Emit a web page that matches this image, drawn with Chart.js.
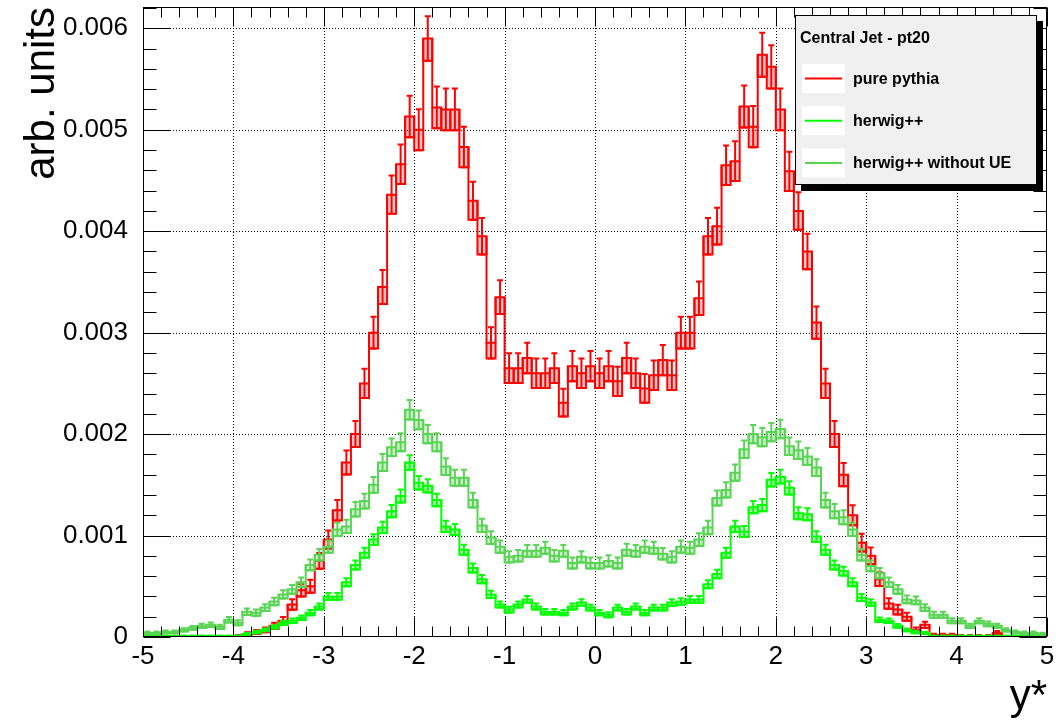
<!DOCTYPE html>
<html>
<head>
<meta charset="utf-8">
<title>Central Jet - pt20</title>
<script src="https://cdn.jsdelivr.net/npm/chart.js@4.4.1/dist/chart.umd.min.js"></script>
<style>
html,body{margin:0;padding:0;background:#ffffff;}
#wrap{position:relative;width:1063px;height:727px;}
</style>
</head>
<body>
<div id="wrap"><canvas id="chart"></canvas></div>
<script>
// ---- histogram binning (100 bins from -5 to 5) ----
const X_MIN = -5, X_MAX = 5, N_BINS = 100;

// ---- tick labels / texts ----
const xTickLabels = ['-5','-4','-3','-2','-1','0','1','2','3','4','5'];
const yTickLabels = ['0','0.001','0.002','0.003','0.004','0.005','0.006'];
const xTitle = 'y*';
const yTitle = 'arb. units';
const legendTitle = 'Central Jet - pt20';
const seriesNames = ['pure pythia', 'herwig++', 'herwig++ without UE'];

// ---- series values (bin contents) ----
const pythia = [
 0,0,0,0,0,0,0,0,0,0,
 0.00001,0.00003,0.00005,0.00007,0.00011,0.00016,0.00032,0.00046,0.00050,0.00075,
 0.00096,0.00125,0.00172,0.00200,0.00250,0.00300,0.00345,0.00436,0.00466,0.00513,
 0.00500,0.00590,0.00522,0.00520,0.00520,0.00483,0.00430,0.00395,0.00290,0.00335,
 0.00265,0.00265,0.00275,0.00260,0.00260,0.00265,0.00231,0.00267,0.00260,0.00267,
 0.00260,0.00267,0.00252,0.00275,0.00260,0.00245,0.00258,0.00273,0.00258,0.00300,
 0.00300,0.00334,0.00395,0.00405,0.00465,0.00469,0.00523,0.00503,0.00574,0.00562,
 0.00520,0.00459,0.00420,0.00380,0.00310,0.00250,0.00200,0.00160,0.00120,0.00093,
 0.00080,0.00057,0.00033,0.00027,0.00020,0.00007,0.00012,0.00002,0.00002,0.00002,
 0.00001,0.00001,0.00001,0.00001,0.00004,0,0,0,0,0
];
const pythiaErr = [
 0,0,0,0,0,0,0,0,0,0,
 0.000009,0.000016,0.000020,0.000024,0.000030,0.000036,0.000051,0.000061,0.000064,0.000078,
 0.000089,0.000101,0.000119,0.000128,0.000143,0.000157,0.000168,0.000189,0.000195,0.000205,
 0.000202,0.000220,0.000206,0.000206,0.000206,0.000199,0.000188,0.000180,0.000154,0.000166,
 0.000147,0.000147,0.000150,0.000146,0.000146,0.000147,0.000137,0.000148,0.000146,0.000148,
 0.000146,0.000148,0.000144,0.000150,0.000146,0.000142,0.000145,0.000149,0.000145,0.000157,
 0.000157,0.000165,0.000180,0.000182,0.000195,0.000196,0.000207,0.000203,0.000217,0.000214,
 0.000206,0.000194,0.000185,0.000176,0.000159,0.000143,0.000128,0.000114,0.000099,0.000087,
 0.000081,0.000068,0.000052,0.000047,0.000040,0.000024,0.000031,0.000013,0.000013,0.000013,
 0.000009,0.000009,0.000009,0.000009,0.000018,0,0,0,0,0
];
const herwig = [
 0.00001,0.00001,0.00001,0.00001,0.00001,0.00001,0.00001,0.00001,0.00001,0.00001,
 0.00001,0.00003,0.00005,0.00007,0.00010,0.00014,0.00016,0.00019,0.00024,0.00030,
 0.00040,0.00040,0.00054,0.00071,0.00083,0.00096,0.00108,0.00124,0.00139,0.00172,
 0.00152,0.00149,0.00135,0.00109,0.00106,0.00086,0.00068,0.00057,0.00042,0.00032,
 0.00027,0.00032,0.00037,0.00030,0.00025,0.00025,0.00024,0.00030,0.00034,0.00029,
 0.00024,0.00022,0.00029,0.00025,0.00030,0.00024,0.00029,0.00029,0.00034,0.00035,
 0.00037,0.00037,0.00052,0.00062,0.00083,0.00109,0.00104,0.00128,0.00130,0.00155,
 0.00158,0.00147,0.00122,0.00121,0.00099,0.00086,0.00071,0.00065,0.00054,0.00039,
 0.00034,0.00017,0.00016,0.00011,0.00007,0.00005,0.00004,0.00001,0.00001,0.00001,
 0.00001,0.00001,0.00001,0.00001,0.00001,0.00001,0.00001,0.00001,0.00001,0.00001
];
const herwigErr = [
 0.000005,0.000005,0.000005,0.000005,0.000005,0.000005,0.000005,0.000005,0.000005,0.000005,
 0.000005,0.000009,0.000012,0.000014,0.000017,0.000020,0.000022,0.000023,0.000026,0.000029,
 0.000034,0.000034,0.000040,0.000045,0.000049,0.000053,0.000056,0.000060,0.000063,0.000071,
 0.000066,0.000066,0.000062,0.000056,0.000055,0.000050,0.000044,0.000041,0.000035,0.000030,
 0.000028,0.000030,0.000033,0.000029,0.000027,0.000027,0.000026,0.000029,0.000031,0.000029,
 0.000026,0.000025,0.000029,0.000027,0.000029,0.000026,0.000029,0.000029,0.000031,0.000032,
 0.000033,0.000033,0.000039,0.000042,0.000049,0.000056,0.000055,0.000061,0.000061,0.000067,
 0.000068,0.000065,0.000059,0.000059,0.000053,0.000050,0.000045,0.000043,0.000040,0.000034,
 0.000031,0.000022,0.000022,0.000018,0.000014,0.000012,0.000011,0.000005,0.000005,0.000005,
 0.000005,0.000005,0.000005,0.000005,0.000005,0.000005,0.000005,0.000005,0.000005,0.000005
];
const herwigNoUE = [
 0.00004,0.00004,0.00005,0.00005,0.00007,0.00009,0.00011,0.00012,0.00010,0.00017,
 0.00014,0.00025,0.00024,0.00029,0.00035,0.00042,0.00047,0.00054,0.00071,0.00081,
 0.00089,0.00106,0.00109,0.00126,0.00134,0.00150,0.00172,0.00187,0.00192,0.00224,
 0.00214,0.00200,0.00192,0.00168,0.00157,0.00157,0.00135,0.00110,0.00098,0.00089,
 0.00079,0.00080,0.00085,0.00085,0.00088,0.00080,0.00085,0.00073,0.00079,0.00073,
 0.00073,0.00075,0.00073,0.00086,0.00085,0.00089,0.00088,0.00082,0.00079,0.00089,
 0.00088,0.00096,0.00108,0.00137,0.00145,0.00162,0.00185,0.00200,0.00197,0.00202,
 0.00205,0.00188,0.00184,0.00178,0.00167,0.00135,0.00124,0.00118,0.00106,0.00081,
 0.00070,0.00063,0.00054,0.00047,0.00037,0.00036,0.00029,0.00022,0.00022,0.00016,
 0.00016,0.00011,0.00016,0.00013,0.00011,0.00007,0.00005,0.00004,0.00004,0.00003
];
const herwigNoUEErr = [
 0.000013,0.000013,0.000014,0.000014,0.000017,0.000019,0.000021,0.000022,0.000020,0.000026,
 0.000024,0.000032,0.000031,0.000034,0.000037,0.000041,0.000043,0.000046,0.000053,0.000057,
 0.000060,0.000065,0.000066,0.000071,0.000073,0.000077,0.000083,0.000086,0.000088,0.000095,
 0.000093,0.000089,0.000088,0.000082,0.000079,0.000079,0.000073,0.000066,0.000063,0.000060,
 0.000056,0.000057,0.000058,0.000058,0.000059,0.000057,0.000058,0.000054,0.000056,0.000054,
 0.000054,0.000055,0.000054,0.000059,0.000058,0.000060,0.000059,0.000057,0.000056,0.000060,
 0.000059,0.000062,0.000066,0.000074,0.000076,0.000080,0.000086,0.000089,0.000089,0.000090,
 0.000091,0.000087,0.000086,0.000084,0.000082,0.000073,0.000070,0.000069,0.000065,0.000057,
 0.000053,0.000050,0.000046,0.000043,0.000038,0.000038,0.000034,0.000030,0.000030,0.000025,
 0.000025,0.000021,0.000025,0.000023,0.000021,0.000017,0.000014,0.000013,0.000013,0.000011
];

// ---- build step-histogram point lists (bin low edges + final upper edge) ----
const BIN_W = (X_MAX - X_MIN) / N_BINS;
function histData(vals) {
  const pts = vals.map((v, i) => ({ x: X_MIN + i * BIN_W, y: v }));
  pts.push({ x: X_MAX, y: vals[vals.length - 1] });
  return pts;
}

const FONT = '"Liberation Sans", Arial, Helvetica, sans-serif';

// grid (dotted, ROOT style) drawn under the histograms
const gridPlugin = {
  id: 'rootGrid',
  beforeDatasetsDraw(chart) {
    const { ctx, chartArea: a, scales: { x, y } } = chart;
    ctx.save();
    ctx.strokeStyle = '#000';
    ctx.lineWidth = 1;
    ctx.setLineDash([1, 2]);
    for (let k = 1; k < xTickLabels.length - 1; k++) {
      const px = Math.round(x.getPixelForValue(Number(xTickLabels[k]))) + 0.5;
      ctx.beginPath(); ctx.moveTo(px, a.top); ctx.lineTo(px, a.bottom); ctx.stroke();
    }
    for (let k = 1; k < yTickLabels.length; k++) {
      const py = Math.round(y.getPixelForValue(Number(yTickLabels[k]))) + 0.5;
      ctx.beginPath(); ctx.moveTo(a.left, py); ctx.lineTo(a.right, py); ctx.stroke();
    }
    ctx.restore();
  }
};

// error bars + lower error boxes for each histogram
const errorPlugin = {
  id: 'rootErrors',
  afterDatasetDraw(chart, args) {
    const ds = chart.data.datasets[args.index];
    if (!ds.errors) return;
    const { ctx, chartArea: a, scales: { x, y } } = chart;
    ctx.save();
    ctx.beginPath(); ctx.rect(a.left, a.top, a.right - a.left, a.bottom - a.top); ctx.clip();
    ctx.lineWidth = 2;
    ctx.strokeStyle = ds.borderColor;
    ctx.fillStyle = ds.boxFill;
    const vals = ds.values;
    for (let i = 0; i < vals.length; i++) {
      const v = vals[i], e = ds.errors[i];
      if (v <= 0) continue;
      const xl = x.getPixelForValue(X_MIN + i * BIN_W);
      const xr = x.getPixelForValue(X_MIN + (i + 1) * BIN_W);
      const xc = x.getPixelForValue(X_MIN + (i + 0.5) * BIN_W);
      const yv = y.getPixelForValue(v);
      const yt = y.getPixelForValue(v + e);
      const yb = y.getPixelForValue(Math.max(v - e, 0));
      // lower box
      ctx.fillRect(xl, yv, xr - xl, yb - yv);
      ctx.beginPath();
      ctx.moveTo(xl, yv); ctx.lineTo(xl, yb); ctx.lineTo(xr, yb); ctx.lineTo(xr, yv);
      ctx.stroke();
      // error bar with caps
      ctx.beginPath();
      ctx.moveTo(xc, yt); ctx.lineTo(xc, yb);
      ctx.moveTo(xc - 3, yt); ctx.lineTo(xc + 3, yt);
      ctx.moveTo(xc - 3, yb); ctx.lineTo(xc + 3, yb);
      ctx.stroke();
    }
    ctx.restore();
  }
};

// frame + ROOT-style inside ticks
const framePlugin = {
  id: 'rootFrame',
  afterDatasetsDraw(chart) {
    const { ctx, chartArea: a, scales: { x, y } } = chart;
    ctx.save();
    ctx.strokeStyle = '#000';
    ctx.lineWidth = 1;
    const L = Math.round(a.left) + 0.5, R = Math.round(a.right) - 0.5;
    const T = Math.round(a.top) + 0.5, B = Math.round(a.bottom) - 0.5;
    ctx.strokeRect(L, T, R - L, B - T);
    const xMaj = xTickLabels.map(Number);
    const yMaj = yTickLabels.map(Number);
    ctx.beginPath();
    // x ticks (bottom upward, top downward)
    for (let k = 0; k < xMaj.length; k++) {
      const px = Math.round(x.getPixelForValue(xMaj[k])) + 0.5;
      ctx.moveTo(px, B); ctx.lineTo(px, B - 19);
      ctx.moveTo(px, T); ctx.lineTo(px, T + 19);
      if (k < xMaj.length - 1) {
        const st = (xMaj[k + 1] - xMaj[k]) / 5;
        for (let j = 1; j < 5; j++) {
          const pm = Math.round(x.getPixelForValue(xMaj[k] + j * st)) + 0.5;
          ctx.moveTo(pm, B); ctx.lineTo(pm, B - 10);
          ctx.moveTo(pm, T); ctx.lineTo(pm, T + 10);
        }
      }
    }
    // y ticks (left rightward, right leftward)
    const yst = (yMaj[1] - yMaj[0]) / 5;
    for (let k = 0; k < yMaj.length; k++) {
      const py = Math.round(y.getPixelForValue(yMaj[k])) + 0.5;
      ctx.moveTo(L, py); ctx.lineTo(L + 27, py);
      ctx.moveTo(R, py); ctx.lineTo(R - 27, py);
      for (let j = 1; j < 5; j++) {
        const v = yMaj[k] + j * yst;
        if (v > y.max) break;
        const pm = Math.round(y.getPixelForValue(v)) + 0.5;
        ctx.moveTo(L, pm); ctx.lineTo(L + 13, pm);
        ctx.moveTo(R, pm); ctx.lineTo(R - 13, pm);
      }
    }
    ctx.stroke();
    ctx.restore();
  }
};

// ROOT-style legend box with title and shadow
const legendPlugin = {
  id: 'rootLegend',
  afterDraw(chart) {
    const { ctx } = chart;
    const bx = 795, by = 15, bw = 242, bh = 170;
    ctx.save();
    ctx.fillStyle = '#000';
    ctx.fillRect(bx + 6, by + 6, bw, bh);
    ctx.fillStyle = '#f0f0f0';
    ctx.fillRect(bx, by, bw, bh);
    ctx.strokeStyle = '#000';
    ctx.lineWidth = 1;
    ctx.strokeRect(bx + 0.5, by + 0.5, bw - 1, bh - 1);
    ctx.fillStyle = '#000';
    ctx.font = 'bold 16px ' + FONT;
    ctx.textBaseline = 'alphabetic';
    ctx.textAlign = 'left';
    ctx.fillText(legendTitle, bx + 5, 43);
    chart.data.datasets.forEach((ds, k) => {
      const yc = 78.5 + 42.2 * k;
      ctx.fillStyle = '#ffffff';
      ctx.fillRect(802, yc - 14.5, 43, 29);
      ctx.strokeStyle = ds.borderColor;
      ctx.lineWidth = 2;
      ctx.beginPath(); ctx.moveTo(805, yc); ctx.lineTo(842, yc); ctx.stroke();
      ctx.fillStyle = '#000';
      ctx.fillText(ds.label, 853, yc + 5);
    });
    ctx.restore();
  }
};

const datasets = [
  { label: seriesNames[0], values: pythia, errors: pythiaErr, data: histData(pythia),
    borderColor: '#ff0000', boxFill: 'rgba(255,0,0,0.22)', order: 3 },
  { label: seriesNames[1], values: herwig, errors: herwigErr, data: histData(herwig),
    borderColor: '#00ff00', boxFill: 'rgba(0,255,0,0.3)', order: 2 },
  { label: seriesNames[2], values: herwigNoUE, errors: herwigNoUEErr, data: histData(herwigNoUE),
    borderColor: '#59d454', boxFill: 'rgba(89,212,84,0.3)', order: 1 }
].map(d => Object.assign(d, { stepped: true, borderWidth: 2, pointRadius: 0, fill: false, tension: 0 }));

new Chart(document.getElementById('chart'), {
  type: 'line',
  data: { datasets },
  options: {
    responsive: true,
    maintainAspectRatio: false,
    animation: false,
    events: [],
    layout: { padding: { top: 7, right: 16, left: 0, bottom: 0 } },
    plugins: { legend: { display: false }, tooltip: { enabled: false } },
    scales: {
      x: {
        type: 'linear', min: X_MIN, max: X_MAX,
        grid: { display: false, drawTicks: false },
        border: { display: false },
        ticks: {
          stepSize: 1, autoSkip: false, maxRotation: 0, padding: 4,
          color: '#000', font: { family: FONT, size: 26 },
          callback: v => { const s = String(Math.round(v)); return xTickLabels.includes(s) ? s : ''; }
        },
        title: { display: true, text: xTitle, align: 'end', color: '#000',
                 font: { family: FONT, size: 42 }, padding: { top: 0, bottom: 4 } },
        afterFit: s => { s.height = 90; s.paddingLeft = 0; s.paddingRight = 0; }
      },
      y: {
        type: 'linear', min: 0, max: 0.00621,
        grid: { display: false, drawTicks: false },
        border: { display: false },
        ticks: {
          stepSize: 0.001, includeBounds: false, autoSkip: false, padding: 15,
          color: '#000', font: { family: FONT, size: 26 },
          callback: (v, i) => (yTickLabels[i] !== undefined ? yTickLabels[i] : '')
        },
        title: { display: true, text: yTitle, align: 'end', color: '#000',
                 font: { family: FONT, size: 42 }, padding: { top: 17, bottom: 0 } },
        afterFit: s => { s.width = 143; s.paddingTop = 0; s.paddingBottom = 0; }
      }
    }
  },
  plugins: [gridPlugin, errorPlugin, framePlugin, legendPlugin]
});
</script>
</body>
</html>
